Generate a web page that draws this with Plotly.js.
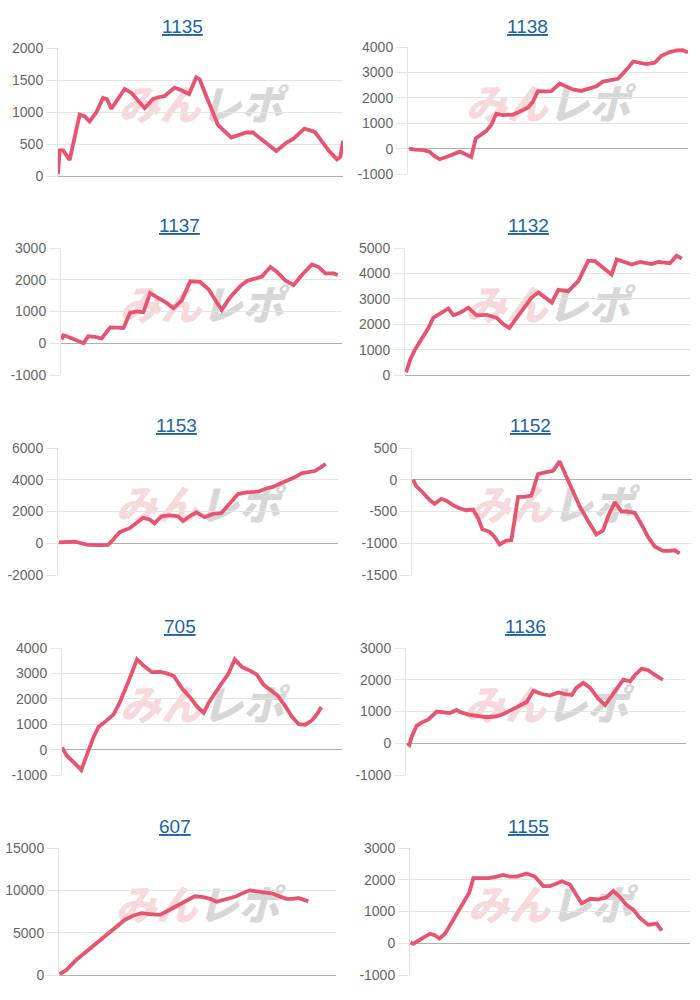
<!DOCTYPE html>
<html>
<head>
<meta charset="utf-8">
<script src="https://cdn.plot.ly/plotly-3.0.1.min.js"></script>
<style>
html,body{margin:0;padding:0;background:#fff;}
#chart{width:700px;height:1000px;}
</style>
</head>
<body>
<div id="chart"></div>
<script>
// ---- data (x = progress through the period, 0..100) ----
const chartNames = ['1135','1138','1137','1132','1153','1152','705','1136','607','1155'];

const x1135 = [0,0.6,1.8,3.5,4.1,7.6,9.4,11.1,13.5,15.8,17.2,18.7,21.1,23.4,25.7,27.5,30.4,33.3,35.1,37.4,40.9,43.3,46.0,48.5,49.7,52.0,56.1,60.8,63.2,66.1,68.4,71.9,76.6,80.1,82.5,86.5,90.1,95.3,97.9,99.1,100];
const y1135 = [30,400,400,270,250,960,930,850,1000,1220,1200,1050,1200,1360,1300,1200,1060,1200,1230,1250,1380,1340,1280,1540,1510,1250,800,600,640,680,680,560,390,520,580,740,690,380,260,300,550];

const x1138 = [0.4,2.4,5.4,7.7,9.5,11.3,13.7,16.1,18.5,20.2,22.6,24.2,26.2,28.0,29.8,31.5,33.9,37.5,39.9,42.9,44.6,46.4,49.4,51.2,54.2,56.5,58.9,61.9,64.9,67.3,69.6,73.2,75.0,78.0,80.4,82.7,85.1,88.1,90.5,93.5,95.8,98.2,100];
const y1138 = [0,-40,-60,-120,-300,-420,-330,-220,-120,-200,-330,400,580,700,950,1370,1320,1340,1450,1620,1850,2260,2250,2260,2560,2450,2330,2270,2380,2450,2640,2700,2750,3100,3430,3380,3330,3380,3650,3800,3870,3880,3780];

const x1137 = [0.2,0.8,2.0,5.0,8.0,9.7,12.1,14.5,17.5,19.8,22.2,24.6,27.0,29.3,31.7,34.1,37.6,40.0,43.0,46.0,49.5,52.5,54.9,57.2,60.2,63.8,66.2,68.5,71.5,74.5,76.8,79.8,82.8,85.7,89.3,91.7,94.1,97.0,98.5];
const y1137 = [120,250,220,100,0,220,200,150,500,490,480,960,1000,980,1580,1450,1270,1100,1350,1950,1930,1700,1380,1050,1450,1800,1960,2030,2100,2400,2250,1980,1830,2150,2480,2400,2200,2200,2150];

const x1132 = [0.4,1.8,3.5,5.8,8.2,9.9,12.3,15.2,17.0,19.3,22.2,25.1,28.7,32.2,34.5,36.6,39.2,42.1,44.4,46.8,49.7,51.5,53.8,57.3,60.8,64.3,66.7,69.6,72.5,74.3,76.6,79.5,82.5,86.5,88.9,93.0,95.3,97.1];
const y1132 = [100,600,1000,1400,1850,2250,2430,2620,2350,2450,2650,2350,2370,2250,2000,1850,2250,2700,3050,3250,3000,2850,3350,3300,3700,4500,4480,4200,3950,4550,4450,4350,4450,4370,4450,4400,4700,4580];

const x1153 = [0.4,3.0,6.0,8.3,10.7,14.9,17.9,19.6,22.0,25.6,28.0,30.4,32.7,34.5,36.9,39.9,42.9,44.6,47.0,49.4,52.4,55.4,58.3,61.3,64.3,67.3,71.4,74.4,76.8,79.2,81.5,84.5,86.9,89.3,91.7,94.0,95.6];
const y1153 = [50,100,100,0,-100,-120,-100,200,700,950,1300,1600,1500,1250,1700,1750,1700,1400,1700,1950,1650,1850,1900,2500,3100,3200,3250,3450,3550,3750,3900,4150,4400,4500,4550,4800,5000];

const x1152 = [0.4,1.5,3.9,6.3,8.1,10.5,12.3,14.6,17.0,19.4,21.8,23.6,25.1,27.7,29.5,31.3,33.7,35.5,37.9,40.2,42.6,45.0,48.0,50.4,52.7,55.1,57.5,59.9,62.9,65.8,68.2,70.0,72.4,74.8,76.5,79.5,81.9,84.3,86.7,89.6,92.0,93.8,95.6];
const y1152 = [0,-100,-200,-320,-380,-300,-330,-400,-450,-480,-470,-600,-780,-820,-900,-1020,-960,-950,-270,-270,-250,90,120,140,290,60,-200,-420,-650,-860,-800,-580,-350,-500,-500,-520,-700,-900,-1050,-1120,-1120,-1110,-1160];

const x705 = [0,1.8,4.2,6.9,8.9,11.3,13.1,15.5,18.5,20.8,23.8,26.8,29.2,32.1,35.1,37.5,39.9,42.9,45.8,48.2,50.6,52.4,54.8,57.1,59.5,61.7,64.3,67.3,69.6,72.0,74.4,76.8,79.8,82.1,84.5,86.9,89.3,91.1,92.6];
const y705 = [80,-250,-500,-800,-200,500,900,1100,1400,1900,2700,3550,3300,3050,3060,3000,2900,2400,2050,1700,1450,1850,2250,2600,3000,3550,3250,3100,2950,2550,2350,2150,1700,1300,1000,980,1150,1400,1680];

const x1136 = [0.5,1.2,2.0,3.8,5.6,8.0,11.0,13.3,15.7,18.1,19.3,22.3,25.8,28.8,32.4,34.8,37.7,40.7,43.1,45.5,48.5,51.4,54.4,56.8,59.2,60.9,63.3,65.7,68.7,71.1,73.5,75.2,77.6,80.0,81.8,84.2,86.5,88.9,91.7];
const y1136 = [0,-50,200,550,650,750,1000,980,950,1050,980,900,870,820,850,920,1050,1200,1300,1650,1550,1500,1600,1550,1520,1750,1900,1750,1400,1200,1500,1700,2000,1950,2150,2350,2300,2150,2000];

const x607 = [0.2,2.7,6.3,9.9,13.5,17.1,20.7,23.7,26.7,29.8,32.8,36.4,38.8,41.8,45.4,49.0,52.0,54.5,56.9,59.3,61.7,64.1,66.5,68.9,71.9,74.9,77.3,79.8,82.2,84.6,86.4,88.2,90.0];
const y607 = [100,600,1800,2800,3800,4700,5800,6500,7000,7300,7200,7100,7500,8000,8700,9300,9200,9000,8650,8900,9100,9300,9700,10000,9850,9700,9600,9250,9000,9000,9100,8900,8700];

const x1155 = [0.2,1.2,3.0,4.8,7.1,8.9,10.5,12.5,14.9,17.3,19.6,21.2,22.6,25.6,28.0,31.0,33.3,35.7,38.1,41.7,44.6,47.6,50.0,52.4,54.2,57.1,58.9,61.3,64.3,67.3,70.2,72.6,75.0,77.4,79.8,82.1,85.1,88.1,89.9];
const y1155 = [30,-20,80,180,300,250,150,300,650,1000,1350,1600,2050,2050,2050,2100,2150,2100,2100,2200,2100,1800,1800,1880,1950,1850,1600,1250,1400,1380,1450,1650,1450,1200,1050,800,580,620,400];

// y-axis tick values per chart
const ticks1135 = [0,500,1000,1500,2000];
const ticks1138 = [-1000,0,1000,2000,3000,4000];
const ticks1137 = [-1000,0,1000,2000,3000];
const ticks1132 = [0,1000,2000,3000,4000,5000];
const ticks1153 = [-2000,0,2000,4000,6000];
const ticks1152 = [-1500,-1000,-500,0,500];
const ticks705  = [-1000,0,1000,2000,3000,4000];
const ticks1136 = [-1000,0,1000,2000,3000];
const ticks607  = [0,5000,10000,15000];
const ticks1155 = [-1000,0,1000,2000,3000];

const watermarkA = 'みん';
const watermarkB = 'レポ';

// ---- layout geometry (pixels) ----
const xs = [x1135,x1138,x1137,x1132,x1153,x1152,x705,x1136,x607,x1155];
const ys = [y1135,y1138,y1137,y1132,y1153,y1152,y705,y1136,y607,y1155];
const tks = [ticks1135,ticks1138,ticks1137,ticks1132,ticks1153,ticks1152,ticks705,ticks1136,ticks607,ticks1155];
const W = 700, H = 1000;
const boxes = [[58,343,48,176],[408,688,47,174],[61,342,248,375],[405,690,248,375],[58,338,448,575],[412,692,448,575],[62,342,648,775],[406,686,648,775],[59,336,848,975],[410,690,848,975]];
const titleX = [182,527,180,528,177,530,180,525,175,528];
const titleY = [26,26,226,226,426,426,626,626,826,826];

const traces = [];
const layout = {
  width: W, height: H,
  margin: {l:0,r:0,t:0,b:0},
  paper_bgcolor: '#fff', plot_bgcolor: 'rgba(0,0,0,0)',
  showlegend: false, hovermode: false,
  font: {family: 'Liberation Sans, Arial, sans-serif'},
  annotations: [], shapes: []
};

for (let i = 0; i < 10; i++) {
  const s = i === 0 ? '' : String(i + 1);
  const b = boxes[i];
  const tv = tks[i];
  traces.push({
    x: xs[i], y: ys[i], type: 'scatter', mode: 'lines',
    xaxis: 'x' + s, yaxis: 'y' + s,
    line: {color: '#e8546f', width: 3.8}
  });
  layout['xaxis' + s] = {
    domain: [b[0]/W, b[1]/W], range: [0, 100], anchor: 'y' + s,
    showgrid: false, zeroline: false, showticklabels: false, ticks: '', showline: false, fixedrange: true
  };
  layout['yaxis' + s] = {
    domain: [1 - b[3]/H, 1 - b[2]/H], range: [tv[0], tv[tv.length-1]], anchor: 'x' + s,
    tickmode: 'array', tickvals: tv, ticktext: tv.map(v => String(v)),
    showgrid: true, gridcolor: '#e4e4e4', gridwidth: 1,
    zeroline: true, zerolinecolor: '#b0b0b0', zerolinewidth: 1,
    showline: true, linecolor: '#e4e4e4', linewidth: 1,
    ticks: 'outside', ticklen: 11, tickcolor: '#e4e4e4', tickwidth: 1,
    tickfont: {size: 14, color: '#666'}, fixedrange: true
  };
  layout.annotations.push({
    text: chartNames[i], xref: 'paper', yref: 'paper',
    x: titleX[i]/W, y: 1 - titleY[i]/H, xanchor: 'center', yanchor: 'middle',
    showarrow: false,
    font: {size: 19, color: '#1d64a3', family: 'Liberation Sans, Arial, sans-serif', lineposition: 'under'}
  });
  layout.shapes.push({
    type: 'rect', layer: 'below',
    xref: 'x' + s + ' domain', yref: 'y' + s + ' domain',
    x0: 0.1, x1: 0.9, y0: 0.32, y1: 0.72,
    line: {width: 0}, fillcolor: 'rgba(0,0,0,0)',
    label: {
      text: '<span style="color:rgba(228,120,132,0.5)">' + watermarkA + '</span><span style="color:rgba(140,140,140,0.6)">' + watermarkB + '</span>',
      textposition: 'middle center',
      font: {size: 41, family: 'Noto Sans CJK JP', weight: 900, style: 'italic', color: 'rgba(140,140,140,0.6)'}
    }
  });
}

Plotly.newPlot('chart', traces, layout, {staticPlot: true, displayModeBar: false});
</script>
</body>
</html>
